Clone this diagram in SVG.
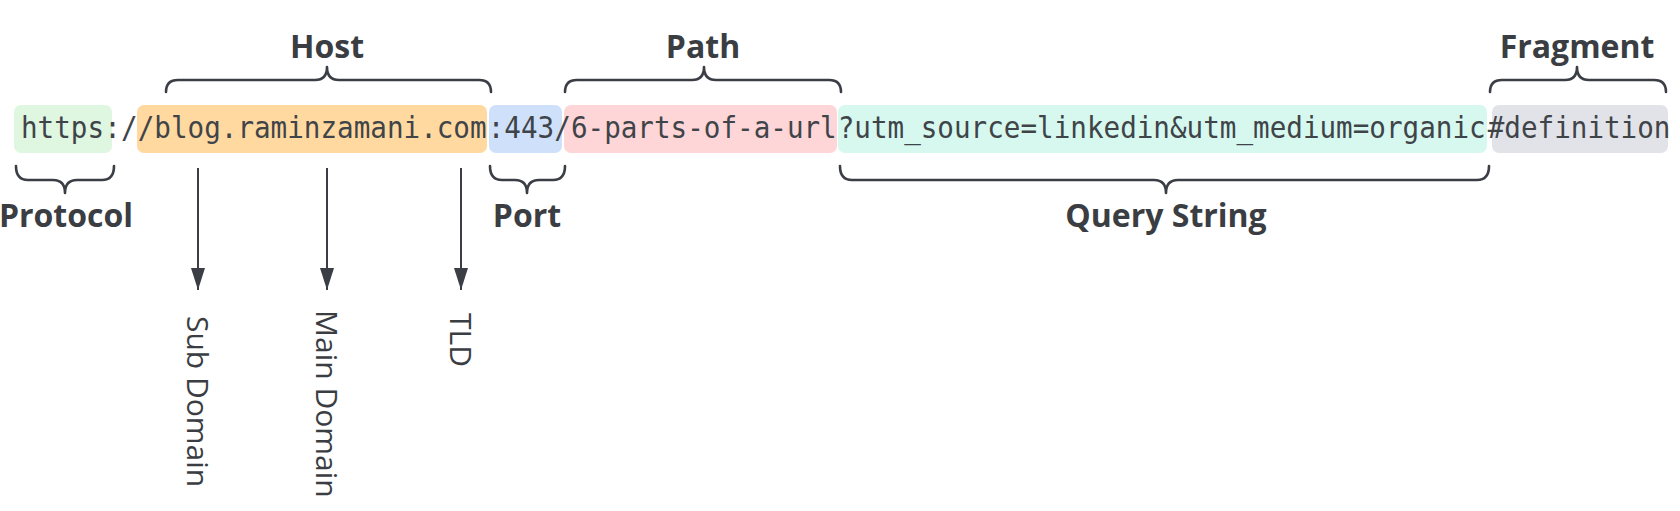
<svg xmlns="http://www.w3.org/2000/svg" width="1680" height="511" viewBox="0 0 1680 511">
<style>
.url{font-family:"DejaVu Sans Mono","Liberation Mono",monospace;font-size:27.6px;fill:#3f4449}
.lbl{font-family:"Open Sans","Noto Sans",sans-serif;font-weight:700;font-size:32px;fill:#3a3d42;text-anchor:middle}
.sub{font-family:"Open Sans","Noto Sans",sans-serif;font-weight:400;font-size:30px;fill:#3a3d42}
.brace{fill:none;stroke:#3b3f45;stroke-width:2.6;stroke-linecap:round;stroke-linejoin:round}
.arrow{fill:none;stroke:#3b3f45;stroke-width:2;marker-end:url(#ah)}
</style>
<defs>
<marker id="ah" markerUnits="userSpaceOnUse" markerWidth="24" markerHeight="16" refX="22" refY="7" orient="auto">
<path d="M0,0 L22,7 L0,14 z" fill="#3b3f45"/>
</marker>
</defs>
<rect width="1680" height="511" fill="#ffffff"/>
<g id="protocol">
<rect x="14" y="105" width="98" height="48" rx="7" fill="#dff6e1"/>
<text class="url" x="21" y="138" transform="translate(0,138) scale(1,1.07) translate(0,-138)">https</text>
<text class="url" x="104.3" y="138" transform="translate(0,138) scale(1,1.07) translate(0,-138)">:/</text>
</g>
<g id="host">
<rect x="137" y="105" width="350" height="48" rx="7" fill="#ffd9a0"/>
<text class="url" x="137.7" y="138" transform="translate(0,138) scale(1,1.07) translate(0,-138)">/blog.raminzamani.com</text>
</g>
<g id="port">
<rect x="489" y="105" width="73" height="48" rx="7" fill="#cfe1fa"/>
<text class="url" x="487.7" y="138" transform="translate(0,138) scale(1,1.07) translate(0,-138)">:443</text>
</g>
<g id="path">
<rect x="564" y="105" width="273" height="48" rx="7" fill="#ffd6d7"/>
<text class="url" x="554.3" y="138" transform="translate(0,138) scale(1,1.07) translate(0,-138)">/6-parts-of-a-url</text>
</g>
<g id="query">
<rect x="838" y="105" width="649" height="48" rx="7" fill="#d6f8ef"/>
<text class="url" x="837.7" y="138" transform="translate(0,138) scale(1,1.07) translate(0,-138)">?utm_source=linkedin&amp;utm_medium=organic</text>
</g>
<g id="fragment">
<rect x="1492" y="105" width="176" height="48" rx="7" fill="#e2e3e8"/>
<text class="url" x="1487.7" y="138" transform="translate(0,138) scale(1,1.07) translate(0,-138)">#definition</text>
</g>
<g id="braces">
<path class="brace" d="M166,92 Q166,80 178,80 L315,80 Q327,80 327,67 Q327,80 339,80 L479,80 Q491,80 491,92"/>
<path class="brace" d="M565,92 Q565,80 577,80 L692,80 Q704,80 704,67 Q704,80 716,80 L829,80 Q841,80 841,92"/>
<path class="brace" d="M1490,92 Q1490,80 1502,80 L1565,80 Q1577,80 1577,67 Q1577,80 1589,80 L1654,80 Q1666,80 1666,92"/>
<path class="brace" d="M16,166 Q16,180 28,180 L53,180 Q65,180 65,193 Q65,180 77,180 L102,180 Q114,180 114,166"/>
<path class="brace" d="M490,166 Q490,180 502,180 L515,180 Q527,180 527,193 Q527,180 539,180 L553,180 Q565,180 565,166"/>
<path class="brace" d="M840,166 Q840,180 852,180 L1154,180 Q1166,180 1166,193 Q1166,180 1178,180 L1477,180 Q1489,180 1489,166"/>
</g>
<g id="labels">
<text class="lbl" x="327" y="58">Host</text>
<text class="lbl" x="703" y="58">Path</text>
<text class="lbl" x="1577" y="58">Fragment</text>
<text class="lbl" x="66" y="227">Protocol</text>
<text class="lbl" x="527" y="227">Port</text>
<text class="lbl" x="1166" y="227">Query String</text>
</g>
<g id="connectors">
<path class="arrow" d="M198,168 L198,290"/>
<path class="arrow" d="M327,168 L327,290"/>
<path class="arrow" d="M461,168 L461,290"/>
</g>
<g id="subdomain"><text class="sub" transform="translate(187,316) rotate(90)">Sub Domain</text></g>
<g id="maindomain"><text class="sub" transform="translate(316,310) rotate(90)">Main Domain</text></g>
<g id="tld"><text class="sub" transform="translate(450,313) rotate(90)">TLD</text></g>
</svg>
